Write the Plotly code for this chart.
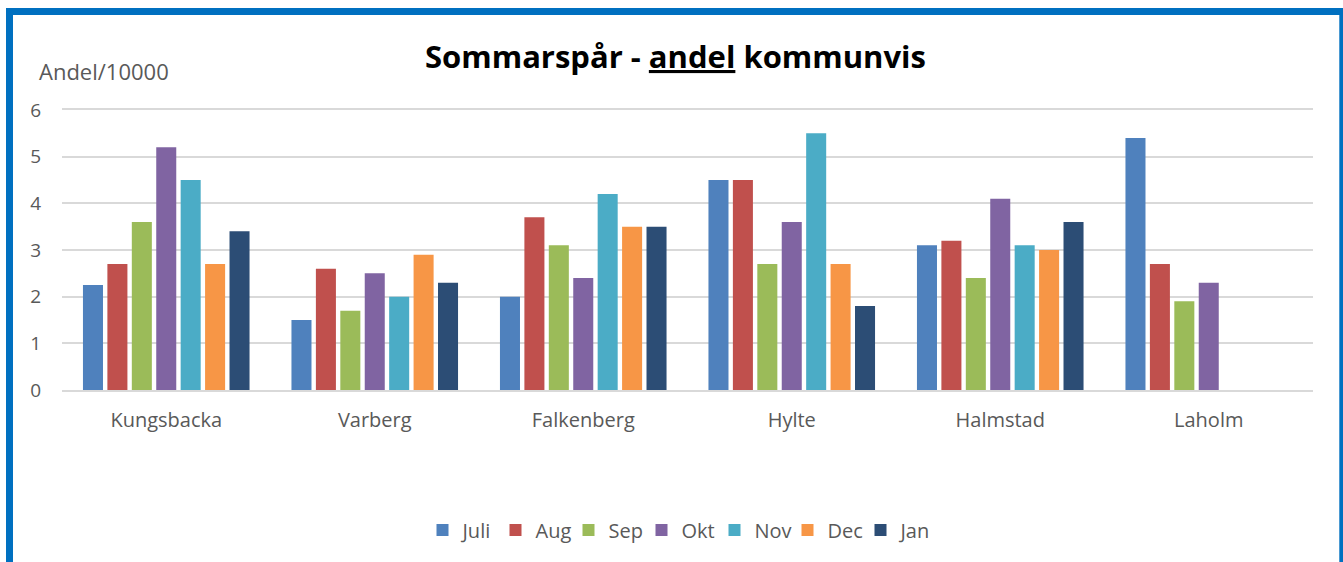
import plotly.graph_objects as go

categories = ["Kungsbacka", "Varberg", "Falkenberg", "Hylte", "Halmstad", "Laholm"]
months = ["Juli", "Aug", "Sep", "Okt", "Nov", "Dec", "Jan"]
juli = [2.25, 1.5, 2.0, 4.5, 3.1, 5.4]
aug = [2.7, 2.6, 3.7, 4.5, 3.2, 2.7]
sep = [3.6, 1.7, 3.1, 2.7, 2.4, 1.9]
okt = [5.2, 2.5, 2.4, 3.6, 4.1, 2.3]
nov = [4.5, 2.0, 4.2, 5.5, 3.1, None]
dec = [2.7, 2.9, 3.5, 2.7, 3.0, None]
jan = [3.4, 2.3, 3.5, 1.8, 3.6, None]
series = [juli, aug, sep, okt, nov, dec, jan]
colors = ["#4F81BD", "#C0504D", "#9BBB59", "#8064A2", "#4BACC6", "#F79646", "#2C4D75"]
y_ticks = [0, 1, 2, 3, 4, 5, 6]

FONT = "Open Sans"
GRAY = "#595959"
GRID = "#D9D9D9"

W, H = 1343, 562
ML, MR, MT, MB = 62, 30, 110, 172
PW, PH = W - ML - MR, H - MT - MB


def px_x(px):
    return (px - ML) / PW


def px_y(py):
    return (H - MB - py) / PH


fig = go.Figure()
for name, vals, col in zip(months, series, colors):
    fig.add_trace(go.Bar(
        name=name, x=categories, y=vals,
        marker=dict(color=col, line=dict(width=0)),
    ))

fig.update_layout(
    width=W, height=H,
    margin=dict(l=ML, r=MR, t=MT, b=MB, pad=0),
    paper_bgcolor="white", plot_bgcolor="white",
    barmode="group", bargap=0.18, bargroupgap=0.18,
    font=dict(family=FONT, color=GRAY, size=20),
    showlegend=True,
    legend=dict(
        orientation="h", x=px_x(678), xanchor="center",
        y=px_y(530), yanchor="middle",
        font=dict(family=FONT, size=20, color=GRAY),
        itemwidth=30, entrywidth=28, traceorder="normal",
        bgcolor="rgba(0,0,0,0)",
    ),
    xaxis=dict(
        showgrid=False, zeroline=False, ticks="",
        showline=True, mirror=True, linecolor=GRID, linewidth=2,
        tickfont=dict(family=FONT, size=20, color=GRAY),
        ticklabelstandoff=11,
    ),
    yaxis=dict(
        range=[0, 6], tickvals=y_ticks, showgrid=True,
        gridcolor=GRID, gridwidth=2, zeroline=False, showline=False,
        ticks="", tickfont=dict(family=FONT, size=19, color=GRAY),
        ticklabelstandoff=20,
    ),
    annotations=[
        dict(text="<b>Sommarspår - <u>andel</u> kommunvis</b>",
             xref="paper", yref="paper", x=px_x(675.5), y=px_y(56),
             xanchor="center", yanchor="middle", showarrow=False,
             font=dict(family=FONT, size=31, color="black")),
        dict(text="Andel/10000", xref="paper", yref="paper",
             x=px_x(37), y=px_y(71), xanchor="left", yanchor="middle",
             showarrow=False, font=dict(family=FONT, size=22, color=GRAY)),
    ],
    shapes=[
        dict(type="rect", xref="paper", yref="paper",
             x0=px_x(9.5), x1=px_x(1342.8), y0=px_y(600), y1=px_y(11.5),
             line=dict(color="#0070C0", width=7), fillcolor="rgba(0,0,0,0)",
             layer="above"),
    ],
)

fig.write_html("out.html", config={"displayModeBar": False},
               post_script="document.body.style.margin='0';")
